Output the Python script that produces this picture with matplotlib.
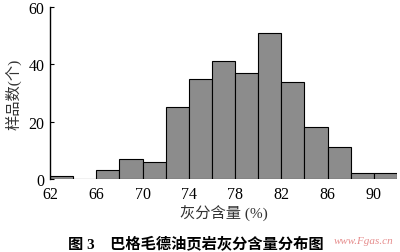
import matplotlib.pyplot as plt

# bin edges (left) and sample counts
bin_left = [62, 64, 66, 68, 70, 72, 74, 76, 78, 80, 82, 84, 86, 88, 90]
counts = [1, 0, 3, 7, 6, 25, 35, 41, 37, 51, 34, 18, 11, 2, 2]
x_ticks = [62, 66, 70, 74, 78, 82, 86, 90]
y_ticks = [0, 20, 40, 60]

fonts = ["Liberation Serif", "Noto Sans CJK SC"]
plt.rcParams["font.family"] = fonts

fig = plt.figure(figsize=(4, 2.53), dpi=100)
ax = fig.add_axes([0.125, 0.289, 0.8675, 0.679])

ax.bar(bin_left, counts, width=2, align="edge",
       color="#8c8c8c", edgecolor="black", linewidth=0.8)

ax.set_xlim(62, 92)
ax.set_ylim(0, 60)
ax.set_xticks(x_ticks)
ax.set_yticks(y_ticks)
ax.tick_params(axis="y", direction="in", length=3, labelsize=11.5, pad=4)
ax.tick_params(axis="x", length=0, labelsize=11.5, pad=5)

for side in ["top", "right", "bottom"]:
    ax.spines[side].set_visible(False)
ax.spines["left"].set_linewidth(1.0)

ax.set_xlabel("灰分含量 (%)", fontsize=11, labelpad=2, color="#333333")
ax.set_ylabel("样品数(个)", fontsize=11, labelpad=5, color="#333333")

fig.text(0.49, 0.038, "图 3    巴格毛德油页岩灰分含量分布图",
         ha="center", va="center", fontsize=11, fontweight="bold")
fig.text(0.835, 0.045, "www.Fgas.cn", ha="left", va="center", fontsize=8,
         style="italic", color="#e07070", alpha=0.8)

fig.savefig("out.png", dpi=100)
